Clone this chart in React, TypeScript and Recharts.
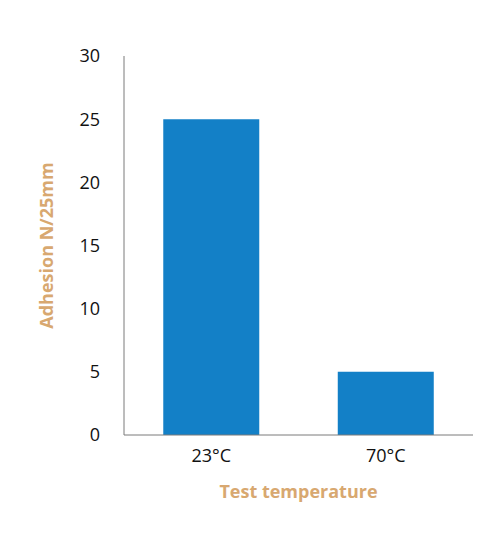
import { BarChart, Bar, XAxis, YAxis } from "recharts";

const temperatures = ["23°C", "70°C"];
const adhesion = [25, 5];
const yTicks = [0, 5, 10, 15, 20, 25, 30];

const data = temperatures.map((t, i) => ({ temp: t, adhesion: adhesion[i] }));

const tan = "#d8a870";
const font = "'Open Sans', sans-serif";

export default function App() {
  return (
    <div style={{ position: "absolute", left: 0, top: 0, background: "#fff" }}>
      <BarChart
        width={497}
        height={550}
        data={data}
        margin={{ top: 56, right: 24, left: 0, bottom: 0 }}
        barCategoryGap="22.5%"
      >
        <XAxis
          dataKey="temp"
          height={115}
          tickLine={false}
          tickMargin={8}
          stroke="#7a7a7a"
          tick={{ fill: "#111", fontSize: 18, fontFamily: font }}
          label={{
            value: "Test temperature",
            position: "insideBottom",
            offset: 52,
            style: { fill: tan, fontSize: 18, fontWeight: 700, fontFamily: font },
          }}
        />
        <YAxis
          width={124}
          domain={[0, 30]}
          ticks={yTicks}
          interval={0}
          tickLine={false}
          axisLine={{ stroke: "#7a7a7a" }}
          tickMargin={18}
          tick={{ fill: "#111", fontSize: 18, fontFamily: font }}
          label={{
            value: "Adhesion N/25mm",
            angle: -90,
            position: "insideLeft",
            offset: 47,
            style: { fill: tan, fontSize: 18, fontWeight: 700, fontFamily: font, textAnchor: "middle" },
          }}
        />
        <Bar dataKey="adhesion" fill="#1380c7" isAnimationActive={false} />
      </BarChart>
    </div>
  );
}
